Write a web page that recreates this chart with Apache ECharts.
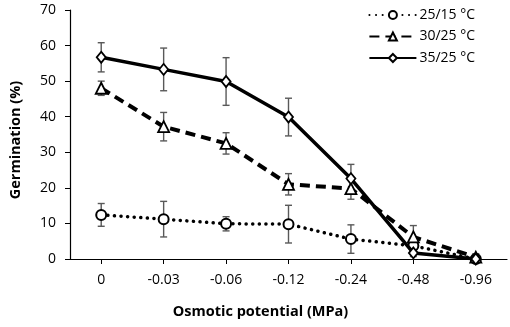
<!DOCTYPE html>
<html><head><meta charset="utf-8">
<script src="https://cdn.jsdelivr.net/npm/echarts@6/dist/echarts.min.js"></script>
<style>html,body{margin:0;padding:0;background:#fff}#c{width:510px;height:327px}</style>
</head><body><div id="c"></div>
<script>
const categories = ['0', '-0.03', '-0.06', '-0.12', '-0.24', '-0.48', '-0.96'];
const names = ['25/15 °C', '30/25 °C', '35/25 °C'];
const g25_15 = [12.4, 11.2, 9.9, 9.8, 5.6, 3.7, 0];
const g30_25 = [48.0, 37.2, 32.5, 21.0, 19.8, 6.2, 0.5];
const g35_25 = [56.7, 53.3, 49.9, 39.9, 22.6, 1.7, 0];
const e25_15 = [3.2, 5.0, 2.0, 5.3, 4.0, 1.0, 0.3];
const e30_25 = [2.0, 4.0, 3.0, 3.0, 3.0, 3.2, 1.0];
const e35_25 = [4.1, 6.0, 6.7, 5.3, 4.0, 1.0, 0.3];
const yTicks = [0, 10, 20, 30, 40, 50, 60, 70];

const font = 'Open Sans';
function errSeries(vals, errs) {
  return {
    type: 'custom', silent: true, z: 1,
    data: vals.map((v, i) => [i, v, errs[i]]),
    renderItem: function (params, api) {
      const i = api.value(0), v = api.value(1), e = api.value(2);
      const top = api.coord([i, v + e]);
      const bot = api.coord([i, v - e]);
      const w = 3.5;
      const st = { stroke: '#595959', lineWidth: 1.4 };
      return { type: 'group', children: [
        { type: 'line', shape: { x1: top[0], y1: top[1], x2: bot[0], y2: bot[1] }, style: st },
        { type: 'line', shape: { x1: top[0] - w, y1: top[1], x2: top[0] + w, y2: top[1] }, style: st },
        { type: 'line', shape: { x1: bot[0] - w, y1: bot[1], x2: bot[0] + w, y2: bot[1] }, style: st }
      ]};
    }
  };
}
const chart = echarts.init(document.getElementById('c'), null, { renderer: 'canvas' });
chart.setOption({
  animation: false,
  grid: { left: 68, right: 3, top: 10, bottom: 68 },
  legend: {
    right: 30, top: 3, orient: 'vertical', itemGap: 7.5,
    itemWidth: 47, itemHeight: 10,
    textStyle: { fontFamily: font, fontSize: 14, color: '#000', padding: [0, 0, 0, -2] },
    data: names
  },
  xAxis: {
    type: 'category', data: categories, boundaryGap: true,
    axisLine: { lineStyle: { color: '#000', width: 1.2 } },
    axisTick: { show: true, alignWithLabel: true, length: 5, lineStyle: { color: '#000' } },
    axisLabel: { fontFamily: font, fontSize: 14, color: '#000', margin: 14 },
    name: 'Osmotic potential (MPa)', nameLocation: 'middle', nameGap: 45,
    nameTextStyle: { fontFamily: font, fontSize: 14.5, fontWeight: 'bold', color: '#000', padding: [0, 56, 0, 0] }
  },
  yAxis: {
    type: 'value', min: 0, max: 70, interval: 10,
    axisLine: { show: true, lineStyle: { color: '#000', width: 1.2 } },
    axisTick: { show: true, length: 5, lineStyle: { color: '#000' } },
    splitLine: { show: false },
    axisLabel: { fontFamily: font, fontSize: 14, color: '#000', margin: 14,
      formatter: v => yTicks.includes(v) ? String(v) : '' },
    name: 'Germination (%)', nameLocation: 'middle', nameGap: 47, nameRotate: 90,
    nameTextStyle: { fontFamily: font, fontSize: 14.5, fontWeight: 'bold', color: '#000', padding: [0, 11, 0, 0] }
  },
  series: [
    errSeries(g25_15, e25_15), errSeries(g30_25, e30_25), errSeries(g35_25, e35_25),
    { name: names[0], type: 'line', data: g25_15, z: 3,
      symbol: 'circle', symbolSize: 10, showAllSymbol: true,
      lineStyle: { color: '#000', width: 3.5, type: [0.1, 6.5], cap: 'round' },
      itemStyle: { color: '#fff', borderColor: '#000', borderWidth: 2 } },
    { name: names[1], type: 'line', data: g30_25, z: 3,
      symbol: 'triangle', symbolSize: 11,
      lineStyle: { color: '#000', width: 4, type: [10, 6] },
      itemStyle: { color: '#fff', borderColor: '#000', borderWidth: 1.8 } },
    { name: names[2], type: 'line', data: g35_25, z: 4,
      symbol: 'diamond', symbolSize: [9, 11],
      lineStyle: { color: '#000', width: 3.5 },
      itemStyle: { color: '#fff', borderColor: '#000', borderWidth: 1.8 } }
  ]
});
</script></body></html>
